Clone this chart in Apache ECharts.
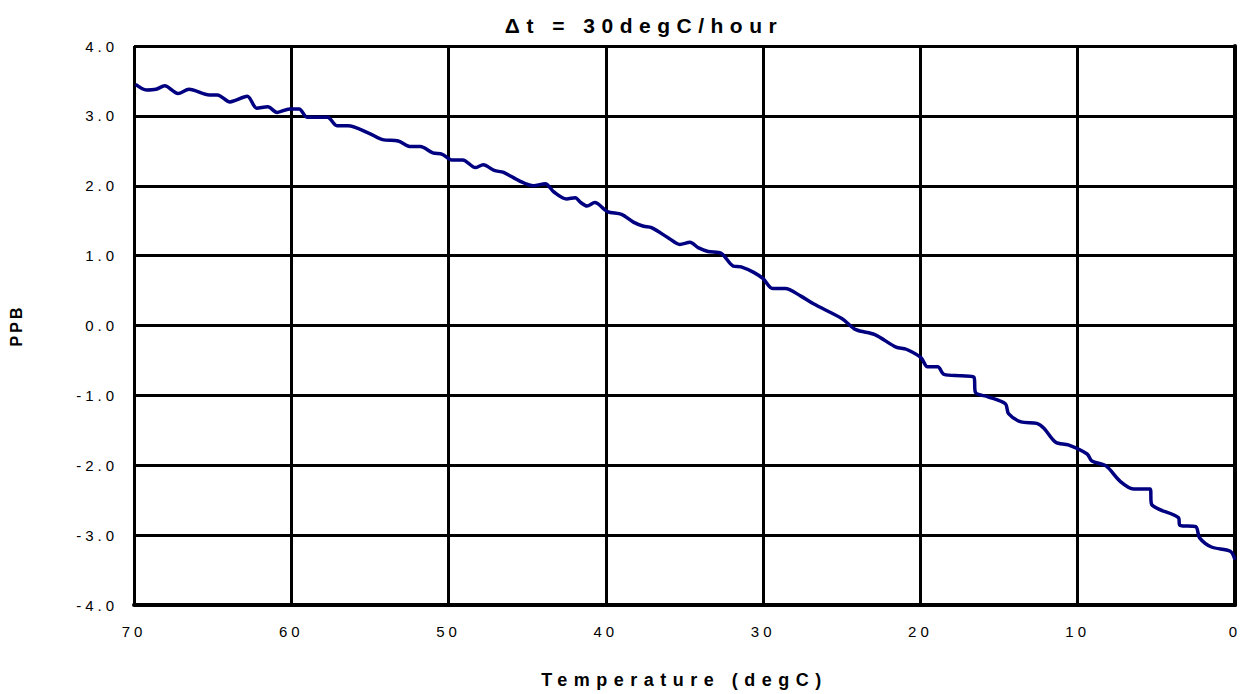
<!DOCTYPE html>
<html>
<head>
<meta charset="utf-8">
<script src="https://cdn.jsdelivr.net/npm/echarts@6/dist/echarts.min.js"></script>
<style>html,body{margin:0;padding:0;background:#fff;overflow:hidden}#c{width:1246px;height:694px}</style>
</head>
<body>
<div id="c"></div>
<script>
const titleText = "\u0394t = 30degC/hour";
const xAxisName = "Temperature (degC)";
const yAxisName = "PPB";
const xTicks = [0, 10, 20, 30, 40, 50, 60, 70];
const yTicks = [-4, -3, -2, -1, 0, 1, 2, 3, 4];

const temperature = [
 69.9, 69.2, 68.6, 68.05, 67.2, 66.5, 65.2, 64.7, 63.9, 62.8, 62.2, 61.5, 60.9, 60.1, 59.5, 59.0,
 57.7, 57.1, 56.4, 55.05, 54.2, 53.2, 52.4, 51.8, 51.0, 50.4, 49.8, 49.1, 48.3, 47.8, 47.1, 46.5,
 45.5, 44.6, 43.85, 43.3, 42.5, 41.95, 41.6, 41.2, 40.7, 39.9, 39.0, 38.25, 37.6, 37.1, 36.0, 35.3,
 34.65, 34.1, 33.5, 32.65, 31.9, 31.4, 30.6, 30.0, 29.4, 28.6, 27.6, 26.8, 25.0, 24.1, 22.9, 21.55,
 20.9, 19.97, 19.55, 18.9, 18.5, 17.4, 16.6, 16.5, 15.7, 14.6, 14.4, 13.6, 12.6, 12.15, 11.4, 10.6,
 9.4, 9.1, 8.2, 7.3, 6.45, 5.4, 5.3, 3.6, 3.5, 2.5, 2.25, 1.5, 0.3, 0.0
];
const ppb = [
 3.45, 3.37, 3.38, 3.43, 3.32, 3.38, 3.30, 3.30, 3.20, 3.28, 3.11, 3.13, 3.05, 3.10, 3.10, 2.98,
 2.98, 2.86, 2.86, 2.75, 2.66, 2.64, 2.56, 2.56, 2.47, 2.45, 2.37, 2.37, 2.26, 2.30, 2.22, 2.19,
 2.07, 2.00, 2.03, 1.91, 1.81, 1.83, 1.76, 1.71, 1.76, 1.63, 1.59, 1.48, 1.42, 1.40, 1.25, 1.16,
 1.19, 1.11, 1.06, 1.03, 0.85, 0.84, 0.76, 0.67, 0.53, 0.53, 0.42, 0.31, 0.10, -0.06, -0.13, -0.31,
 -0.34, -0.46, -0.59, -0.59, -0.70, -0.72, -0.74, -0.96, -1.02, -1.12, -1.26, -1.38, -1.40, -1.47, -1.67, -1.71,
 -1.84, -1.94, -2.01, -2.23, -2.34, -2.34, -2.56, -2.75, -2.86, -2.88, -3.04, -3.17, -3.23, -3.35
];

const points = temperature.map((t, i) => [t, ppb[i]]);
const chart = echarts.init(document.getElementById('c'), null, {renderer: 'svg'});
const font = 'Liberation Sans, Arial, sans-serif';

function spaceTexts() {
  const texts = document.querySelectorAll('#c svg text');
  texts.forEach(t => {
    const s = t.textContent;
    let ls = '4px';
    if (s === titleText) ls = '6.5px';
    else if (s === xAxisName) ls = '6.5px';
    else if (s === yAxisName) ls = '3px';
    t.style.letterSpacing = ls;
  });
}
chart.on('finished', spaceTexts);

chart.setOption({
  animation: false,
  backgroundColor: '#ffffff',
  title: {
    text: titleText, left: 639, top: 10, textAlign: 'center',
    textStyle: {fontFamily: font, fontWeight: 'bold', fontSize: 21, color: '#000'}
  },
  grid: {left: 132, right: 11, top: 46, bottom: 80, containLabel: false},
  xAxis: {
    type: 'value', inverse: true, min: 0, max: 70, interval: 10,
    name: xAxisName, nameLocation: 'middle', nameGap: 66,
    nameTextStyle: {fontFamily: font, fontWeight: 'bold', fontSize: 18, color: '#000'},
    axisLine: {show: true, onZero: false, lineStyle: {color: '#000', width: 4}},
    axisTick: {show: false},
    splitLine: {show: true, lineStyle: {color: '#000', width: 3}},
    axisLabel: {fontFamily: font, fontSize: 15, color: '#000', margin: 19,
      formatter: v => xTicks.includes(v) ? String(v) : ''}
  },
  yAxis: {
    type: 'value', min: -4, max: 4, interval: 1,
    name: yAxisName, nameLocation: 'middle', nameGap: 110, nameRotate: 90,
    nameTextStyle: {fontFamily: font, fontWeight: 'bold', fontSize: 16, color: '#000'},
    axisLine: {show: true, lineStyle: {color: '#000', width: 4}},
    axisTick: {show: false},
    splitLine: {show: true, lineStyle: {color: '#000', width: 3}},
    axisLabel: {fontFamily: font, fontSize: 15, color: '#000', margin: 16,
      formatter: v => yTicks.includes(v) ? v.toFixed(1) : ''}
  },
  series: [{
    type: 'line', data: points, showSymbol: false, smooth: 0.3,
    lineStyle: {color: '#000080', width: 3.5}, z: 5
  }]
});
spaceTexts();
setTimeout(spaceTexts, 50);
setTimeout(spaceTexts, 300);
</script>
</body>
</html>
